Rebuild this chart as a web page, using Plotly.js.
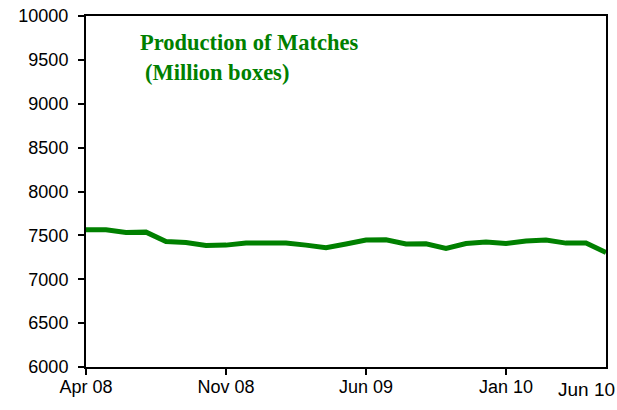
<!DOCTYPE html>
<html>
<head>
<meta charset="utf-8">
<script src="https://cdn.plot.ly/plotly-3.0.1.min.js"></script>
<style>html,body{margin:0;padding:0;background:#fff}#chart{width:617px;height:410px}</style>
</head>
<body>
<div id="chart"></div>
<script>
const months = ["Apr 08","May 08","Jun 08","Jul 08","Aug 08","Sep 08","Oct 08","Nov 08","Dec 08",
  "Jan 09","Feb 09","Mar 09","Apr 09","May 09","Jun 09","Jul 09","Aug 09","Sep 09","Oct 09",
  "Nov 09","Dec 09","Jan 10","Feb 10","Mar 10","Apr 10","May 10","Jun 10"];
const production = [7564,7564,7533,7537,7431,7419,7385,7389,7412,7412,7412,7389,7359,7401,
  7446,7450,7401,7404,7351,7408,7423,7408,7435,7446,7412,7412,7305];
const tickLabels = ["Apr 08","Nov 08","Jun 09","Jan 10"];
const titleLines = ["Production of Matches", "(Million boxes)"];

const sans = "Arial, Liberation Sans, sans-serif";
const serif = "Times New Roman, Liberation Serif, serif";

const trace = {
  x: months, y: production, type: "scatter", mode: "lines",
  line: {color: "#008000", width: 5}, hoverinfo: "skip"
};
const layout = {
  width: 617, height: 410,
  margin: {l: 86, r: 11, t: 16, b: 43},
  paper_bgcolor: "#fff", plot_bgcolor: "#fff",
  showlegend: false,
  font: {family: sans, color: "#000"},
  xaxis: {
    type: "category", range: [0, months.length - 1],
    tickmode: "array", tickvals: tickLabels, ticktext: tickLabels,
    ticks: "outside", ticklen: 6, tickwidth: 2, tickcolor: "#000",
    ticklabelstandoff: -4,
    showline: true, linecolor: "#000", linewidth: 2, mirror: true,
    showgrid: false, zeroline: false,
    tickfont: {family: sans, size: 18, color: "#000"}
  },
  yaxis: {
    range: [6000, 10000], dtick: 500, tick0: 6000, tickformat: "d",
    ticks: "outside", ticklen: 6, tickwidth: 2, tickcolor: "#000",
    ticklabelstandoff: 6,
    showline: true, linecolor: "#000", linewidth: 2, mirror: true,
    showgrid: false, zeroline: false,
    tickfont: {family: sans, size: 18, color: "#000"}
  },
  annotations: [
    {text: "<b>" + titleLines[0] + "</b>", xref: "paper", yref: "paper",
     x: 0.1, y: 0.925, xanchor: "left", yanchor: "middle", showarrow: false,
     font: {family: serif, size: 22.5, color: "#008000"}},
    {text: "<b>" + titleLines[1] + "</b>", xref: "paper", yref: "paper",
     x: 0.11, y: 0.84, xanchor: "left", yanchor: "middle", showarrow: false,
     font: {family: serif, size: 22.5, color: "#008000"}},
    {text: months[months.length - 1], xref: "paper", yref: "paper",
     x: 1, xshift: 11, y: 0, yshift: -10, xanchor: "right", yanchor: "top",
     showarrow: false, font: {family: sans, size: 19, color: "#000"}}
  ]
};
Plotly.newPlot("chart", [trace], layout, {displayModeBar: false, staticPlot: true});
</script>
</body>
</html>
